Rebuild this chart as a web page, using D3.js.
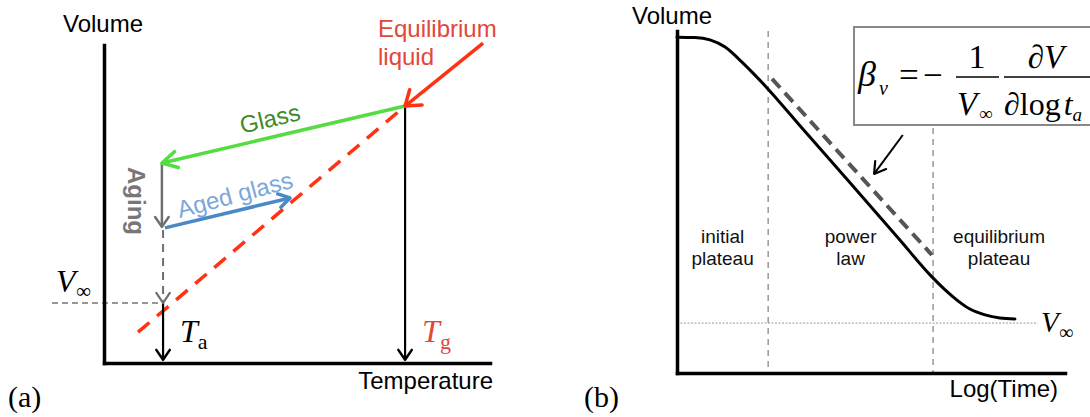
<!DOCTYPE html>
<html>
<head>
<meta charset="utf-8">
<script src="https://cdn.jsdelivr.net/npm/d3@7"></script>
<style>
  html, body { margin: 0; padding: 0; background: #fff; }
  svg { display: block; }
  .sans { font-family: "Liberation Sans", Arial, sans-serif; }
  .serif { font-family: "Liberation Serif", "Times New Roman", serif; }
</style>
</head>
<body>
<svg id="chart" width="1090" height="417"></svg>
<script>
// ---------- Panel (a): volume vs temperature (schematic units 0-10) ----------
const liquidArrow   = [[9.82, 10.06], [7.80, 8.08]];   // cooling along the equilibrium liquid
const liquidExtrap  = [[0.88, 0.97], [7.80, 8.08]];    // extrapolated equilibrium line
const glassPath     = [[7.80, 8.08], [1.50, 6.29]];    // quench into the glass
const agingPath     = [[1.50, 6.29], [1.50, 4.28]];    // isothermal aging at Ta
const agedGlassPath = [[1.58, 4.25], [4.82, 5.19]];    // reheating the aged glass
const toEquilibrium = [[1.53, 4.18], [1.53, 1.89]];    // remaining approach to V∞
const vInfA = 1.89;
const tempMarks = [1.53, 7.80];                         // Ta, Tg
const tempMarkLabels = [["T", "a"], ["T", "g"]];

// ---------- Panel (b): volume vs log(time) ----------
const logTime = [0, 0.46, 0.85, 1.24, 1.62, 2.01, 2.35, 3.17, 4.46, 5.75, 6.57, 6.91, 7.24, 7.55, 7.94, 8.32, 8.71];
const volume  = [9.82, 9.81, 9.74, 9.53, 9.15, 8.71, 8.30, 7.23, 5.56, 3.88, 2.81, 2.43, 2.11, 1.87, 1.70, 1.61, 1.58];
const regionBounds = [2.35, 6.60];
const regionLabels = [["initial", "plateau"], ["power", "law"], ["equilibrium", "plateau"]];
const powerLawFit = [[2.45, 8.60], [6.57, 3.45]];
const slopePointer = [[5.82, 6.96], [5.08, 5.82]];
const vInfB = 1.46;
const vInfBEnd = 9.30;

const svg = d3.select("#chart");

// scales
const xA = d3.scaleLinear().domain([0, 10]).range([104, 490]);
const yA = d3.scaleLinear().domain([0, 10]).range([363, 45]);
const xB = d3.scaleLinear().domain([0, 10]).range([677, 1065]);
const yB = d3.scaleLinear().domain([0, 10]).range([373, 31]);

const C = {
  red: "#ff3312", redText: "#e2473a", green: "#55dc42", greenText: "#3d8c27",
  blue: "#4a88c6", blueText: "#7ba7dc", gray: "#6f6f6f", black: "#000"
};

function line(g, pts, xs, ys, color, width, dash) {
  const p = g.append("path")
    .attr("d", d3.line().x(d => xs(d[0])).y(d => ys(d[1]))(pts))
    .attr("fill", "none").attr("stroke", color).attr("stroke-width", width);
  if (dash) p.attr("stroke-dasharray", dash);
  return p;
}

function head(g, pts, xs, ys, color, width, len, half) {
  const x1 = xs(pts[0][0]), y1 = ys(pts[0][1]);
  const x2 = xs(pts[1][0]), y2 = ys(pts[1][1]);
  const a = Math.atan2(y1 - y2, x1 - x2);
  const w = [a - half, a + half].map(t => [x2 + len * Math.cos(t), y2 + len * Math.sin(t)]);
  g.append("path")
    .attr("d", `M${w[0][0]},${w[0][1]}L${x2},${y2}L${w[1][0]},${w[1][1]}`)
    .attr("fill", "none").attr("stroke", color).attr("stroke-width", width)
    .attr("stroke-linejoin", "round").attr("stroke-linecap", "round");
}

function axes(g, xs, ys) {
  const ax = g.append("g").attr("transform", `translate(0,${ys.range()[0]})`)
    .call(d3.axisBottom(xs).tickValues([]).tickSizeOuter(0));
  const ay = g.append("g").attr("transform", `translate(${xs.range()[0]},0)`)
    .call(d3.axisLeft(ys).tickValues([]).tickSizeOuter(0));
  [ax, ay].forEach(s => s.select(".domain")
    .attr("stroke", "#000").attr("stroke-width", 3.5).attr("stroke-linecap", "square"));
}

// ================= Panel (a) =================
const ga = svg.append("g");

// V∞ reference (dashed, thin)
ga.append("line")
  .attr("x1", 52).attr("x2", xA(tempMarks[0]))
  .attr("y1", yA(vInfA)).attr("y2", yA(vInfA))
  .attr("stroke", "#777").attr("stroke-width", 1.5).attr("stroke-dasharray", "6,4");

// extrapolated liquid line
line(ga, liquidExtrap, xA, yA, C.red, 3.5, "15,10");

// Tg drop line
line(ga, [[tempMarks[1], 8.08], [tempMarks[1], 0.1]], xA, yA, C.black, 2.2);
head(ga, [[tempMarks[1], 8.08], [tempMarks[1], 0.1]], xA, yA, C.black, 2.5, 12, 0.6);

// Ta drop line
line(ga, [[tempMarks[0], vInfA], [tempMarks[0], 0.1]], xA, yA, C.black, 2.2);
head(ga, [[tempMarks[0], vInfA], [tempMarks[0], 0.1]], xA, yA, C.black, 2.5, 12, 0.6);

// approach to V∞ (dashed gray)
line(ga, toEquilibrium, xA, yA, C.gray, 2, "8,6");
head(ga, toEquilibrium, xA, yA, C.gray, 2.2, 12, 0.6);

// aging (solid gray)
line(ga, agingPath, xA, yA, C.gray, 2.5);
head(ga, agingPath, xA, yA, C.gray, 2.5, 12, 0.6);

// aged glass (blue)
line(ga, agedGlassPath, xA, yA, C.blue, 3.5);
head(ga, agedGlassPath, xA, yA, C.blue, 3.5, 13, 0.55);

// glass (green)
line(ga, glassPath, xA, yA, C.green, 3.5);
head(ga, glassPath, xA, yA, C.green, 3.5, 17, 0.5);

// equilibrium liquid (red)
line(ga, liquidArrow, xA, yA, C.red, 3.5);
head(ga, liquidArrow, xA, yA, C.red, 3.5, 17, 0.62);

axes(ga, xA, yA);

// labels
ga.append("text").attr("class", "sans").attr("x", 63).attr("y", 32)
  .attr("font-size", 24).text("Volume");
ga.append("text").attr("class", "sans").attr("x", 493).attr("y", 389)
  .attr("text-anchor", "end").attr("font-size", 24).text("Temperature");
ga.append("text").attr("class", "serif").attr("x", 8).attr("y", 407)
  .attr("font-size", 30).text("(a)");

const eq = ga.append("text").attr("class", "sans").attr("font-size", 24).attr("fill", C.redText);
eq.append("tspan").attr("x", 378).attr("y", 37).text("Equilibrium");
eq.append("tspan").attr("x", 378).attr("y", 65).text("liquid");

function angleOf(pts) {
  const dx = xA(pts[1][0]) - xA(pts[0][0]), dy = yA(pts[1][1]) - yA(pts[0][1]);
  let a = Math.atan2(dy, dx) * 180 / Math.PI;
  if (a > 90) a -= 180; if (a < -90) a += 180;
  return a;
}

ga.append("text").attr("class", "sans").attr("font-size", 24).attr("fill", C.greenText)
  .attr("text-anchor", "middle")
  .attr("transform", `translate(270,119) rotate(${angleOf(glassPath)})`)
  .attr("y", 8).text("Glass");

ga.append("text").attr("class", "sans").attr("font-size", 24).attr("fill", C.blueText)
  .attr("text-anchor", "middle")
  .attr("transform", `translate(235,195) rotate(${angleOf(agedGlassPath) - 1.5})`)
  .attr("y", 8).text("Aged glass");

ga.append("text").attr("class", "sans").attr("font-size", 24).attr("font-weight", "bold")
  .attr("fill", "#777").attr("text-anchor", "middle")
  .attr("transform", "translate(136,201) rotate(90)")
  .attr("y", 8).text("Aging");

// V∞ (left)
const vA = ga.append("text").attr("class", "serif").attr("fill", "#000");
vA.append("tspan").attr("x", 56).attr("y", 292).attr("font-size", 32).attr("font-style", "italic").text("V");
vA.append("tspan").attr("x", 76).attr("y", 298).attr("font-size", 21).text("∞");

// Ta, Tg
const tColors = [C.black, C.redText];
tempMarks.forEach((t, i) => {
  const tx = ga.append("text").attr("class", "serif").attr("fill", tColors[i]);
  tx.append("tspan").attr("x", xA(t) + 17).attr("y", 342)
    .attr("font-size", 32).attr("font-style", "italic").text(tempMarkLabels[i][0]);
  tx.append("tspan").attr("y", 349).attr("font-size", 22).text(tempMarkLabels[i][1]);
});

// ================= Panel (b) =================
const gb = svg.append("g");

// region separators
regionBounds.forEach((b, i) => {
  gb.append("line")
    .attr("x1", xB(b)).attr("x2", xB(b))
    .attr("y1", i === 0 ? yB(10) : 128).attr("y2", yB(0))
    .attr("stroke", "#999").attr("stroke-width", 1.5).attr("stroke-dasharray", "6,5");
});

// V∞ level
gb.append("line")
  .attr("x1", xB(0)).attr("x2", xB(vInfBEnd))
  .attr("y1", yB(vInfB)).attr("y2", yB(vInfB))
  .attr("stroke", "#999").attr("stroke-width", 1).attr("stroke-dasharray", "2,1.5");

// power-law asymptote
line(gb, powerLawFit, xB, yB, "#555", 4, "12,7");

// volume relaxation curve
gb.append("path")
  .datum(logTime.map((t, i) => [t, volume[i]]))
  .attr("d", d3.line().x(d => xB(d[0])).y(d => yB(d[1])).curve(d3.curveMonotoneX))
  .attr("fill", "none").attr("stroke", "#000").attr("stroke-width", 3)
  .attr("stroke-linecap", "round");

axes(gb, xB, yB);

// region labels
const edges = [0, ...regionBounds, 10];
regionLabels.forEach((lbl, i) => {
  const cx = xB((edges[i] + edges[i + 1]) / 2);
  const t = gb.append("text").attr("class", "sans").attr("font-size", 19)
    .attr("text-anchor", "middle").attr("fill", "#111");
  t.append("tspan").attr("x", cx).attr("y", 243).text(lbl[0]);
  t.append("tspan").attr("x", cx).attr("y", 265).text(lbl[1]);
});

// axis labels
gb.append("text").attr("class", "sans").attr("x", 632).attr("y", 24)
  .attr("font-size", 24).text("Volume");
gb.append("text").attr("class", "sans").attr("x", 1058).attr("y", 397)
  .attr("text-anchor", "end").attr("font-size", 24).text("Log(Time)");
gb.append("text").attr("class", "serif").attr("x", 584).attr("y", 407)
  .attr("font-size", 30).text("(b)");

// V∞ (right)
const vB = gb.append("text").attr("class", "serif");
vB.append("tspan").attr("x", 1041).attr("y", 332).attr("font-size", 29).attr("font-style", "italic").text("V");
vB.append("tspan").attr("x", 1059).attr("y", 339).attr("font-size", 20).text("∞");

// formula box
gb.append("rect").attr("x", 854).attr("y", 27).attr("width", 300).attr("height", 98)
  .attr("fill", "#fff").attr("stroke", "#888").attr("stroke-width", 2);

const f = gb.append("g").attr("class", "serif").attr("fill", "#000");
f.append("text").attr("x", 858).attr("y", 86).attr("font-size", 36).attr("font-style", "italic").text("β");
f.append("text").attr("x", 879).attr("y", 95).attr("font-size", 20).attr("font-style", "italic").text("ν");
f.append("text").attr("x", 899).attr("y", 87).attr("font-size", 35).text("=");
f.append("text").attr("x", 923).attr("y", 87).attr("font-size", 35).text("−");
f.append("line").attr("x1", 956).attr("x2", 999).attr("y1", 77).attr("y2", 77)
  .attr("stroke", "#000").attr("stroke-width", 1.6);
f.append("text").attr("x", 977).attr("y", 68).attr("font-size", 34).attr("text-anchor", "middle").text("1");
f.append("text").attr("x", 957).attr("y", 115).attr("font-size", 33).attr("font-style", "italic").text("V");
f.append("text").attr("x", 979).attr("y", 120).attr("font-size", 19).text("∞");
f.append("line").attr("x1", 1004).attr("x2", 1100).attr("y1", 77).attr("y2", 77)
  .attr("stroke", "#000").attr("stroke-width", 1.6);
const num = f.append("text").attr("x", 1046).attr("y", 68).attr("font-size", 33).attr("text-anchor", "middle");
num.append("tspan").text("∂");
num.append("tspan").attr("font-style", "italic").text("V");
const den = f.append("text").attr("x", 1004).attr("y", 115).attr("font-size", 32);
den.append("tspan").text("∂log");
den.append("tspan").attr("dx", 3).attr("font-style", "italic").text("t");
den.append("tspan").attr("dx", 0).attr("dy", 6).attr("font-size", 19).attr("font-style", "italic").text("a");

// pointer from formula to the asymptote
line(gb, slopePointer, xB, yB, "#000", 2);
head(gb, slopePointer, xB, yB, "#000", 2.2, 13, 0.55);
</script>
</body>
</html>
